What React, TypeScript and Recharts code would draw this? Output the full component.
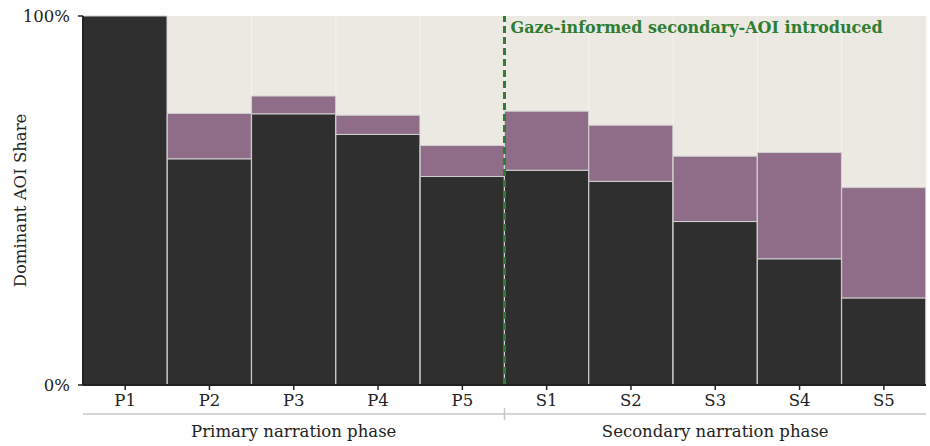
import {
  Bar,
  BarChart,
  CartesianGrid,
  ReferenceLine,
  XAxis,
  YAxis,
} from "recharts";

const categories = ["P1", "P2", "P3", "P4", "P5", "S1", "S2", "S3", "S4", "S5"];
const dominantShare = [100, 61.3, 73.5, 67.9, 56.5, 58.2, 55.2, 44.3, 34.2, 23.6];
const secondaryShare = [0, 12.3, 4.8, 5.2, 8.4, 16.0, 15.2, 17.7, 28.8, 29.9];
const phaseLabels = ["Primary narration phase", "Secondary narration phase"];
const yTicks = [0, 100];

const half = categories.length / 2;

const chartData = categories.map((name, i) => ({
  name,
  phase: i < half ? phaseLabels[0] : phaseLabels[1],
  dominant: dominantShare[i],
  secondary: secondaryShare[i],
}));

const font = "'DejaVu Serif', serif";
const dark = "#2f2f2f";
const purple = "#8f6d89";
const green = "#2e7d32";

// group label under each phase, plus the small divider between the two
function PhaseTick(props: any) {
  const { x, y, payload, index, width } = props;
  const divider = index === 0 && width ? x + width / 4 : null;
  return (
    <g>
      {divider !== null && (
        <line x1={divider} x2={divider} y1={y - 6} y2={y + 6} stroke="#c8c8c8" strokeWidth={1.5} />
      )}
      <text x={x} y={y + 23} textAnchor="middle" fontFamily={font} fontSize={16.5} fill="#222">
        {payload.value}
      </text>
    </g>
  );
}

export default function App() {
  return (
    <div style={{ position: "absolute", left: 0, top: 0, width: 930, height: 446, background: "#fff" }}>
      <BarChart
        width={930}
        height={446}
        data={chartData}
        margin={{ top: 16, right: 4, bottom: 0, left: 0 }}
        barCategoryGap={0}
        barGap={0}
      >
        <CartesianGrid
          horizontal={false}
          fill="#ece9e3"
          stroke="#f6f4f0"
          verticalCoordinatesGenerator={({ offset }: any) =>
            categories.map((_, i) => offset.left + (i * offset.width) / categories.length)
          }
        />
        <XAxis
          dataKey="name"
          height={29}
          tickSize={5}
          tickMargin={4}
          tick={{ fontFamily: font, fontSize: 16.5, fill: "#222" }}
          axisLine={{ stroke: "#222", strokeWidth: 2 }}
          tickLine={{ stroke: "#222", strokeWidth: 1.5 }}
        />
        <XAxis
          xAxisId="phase"
          dataKey="phase"
          allowDuplicatedCategory={false}
          height={32}
          tickSize={0}
          tickMargin={0}
          tickLine={false}
          interval={0}
          axisLine={{ stroke: "#c8c8c8", strokeWidth: 1.5 }}
          tick={<PhaseTick />}
        />
        <YAxis
          width={83}
          domain={[0, 100]}
          ticks={yTicks}
          tickSize={5}
          tickMargin={8}
          tickFormatter={(v: number) => `${v}%`}
          tick={{ fontFamily: font, fontSize: 16.5, fill: "#222" }}
          axisLine={{ stroke: "#222", strokeWidth: 2 }}
          tickLine={{ stroke: "#222", strokeWidth: 1.5 }}
          label={{
            value: "Dominant AOI Share",
            angle: -90,
            position: "insideLeft",
            offset: 20,
            style: { textAnchor: "middle", fontFamily: font, fontSize: 16.5, fill: "#222" },
          }}
        />
        <Bar dataKey="dominant" stackId="a" fill={dark} stroke="#d0d0d0" strokeWidth={1} isAnimationActive={false} />
        <Bar dataKey="secondary" stackId="a" fill={purple} stroke="#d0d0d0" strokeWidth={1} isAnimationActive={false} />
        <ReferenceLine
          x={categories[half]}
          position="start"
          stroke={green}
          strokeWidth={3}
          strokeDasharray="7 4"
          label={{
            value: "Gaze-informed secondary-AOI introduced",
            position: "insideTopLeft",
            offset: 6,
            fill: green,
            fontFamily: font,
            fontSize: 16,
            fontWeight: "bold",
          }}
        />
      </BarChart>
    </div>
  );
}
